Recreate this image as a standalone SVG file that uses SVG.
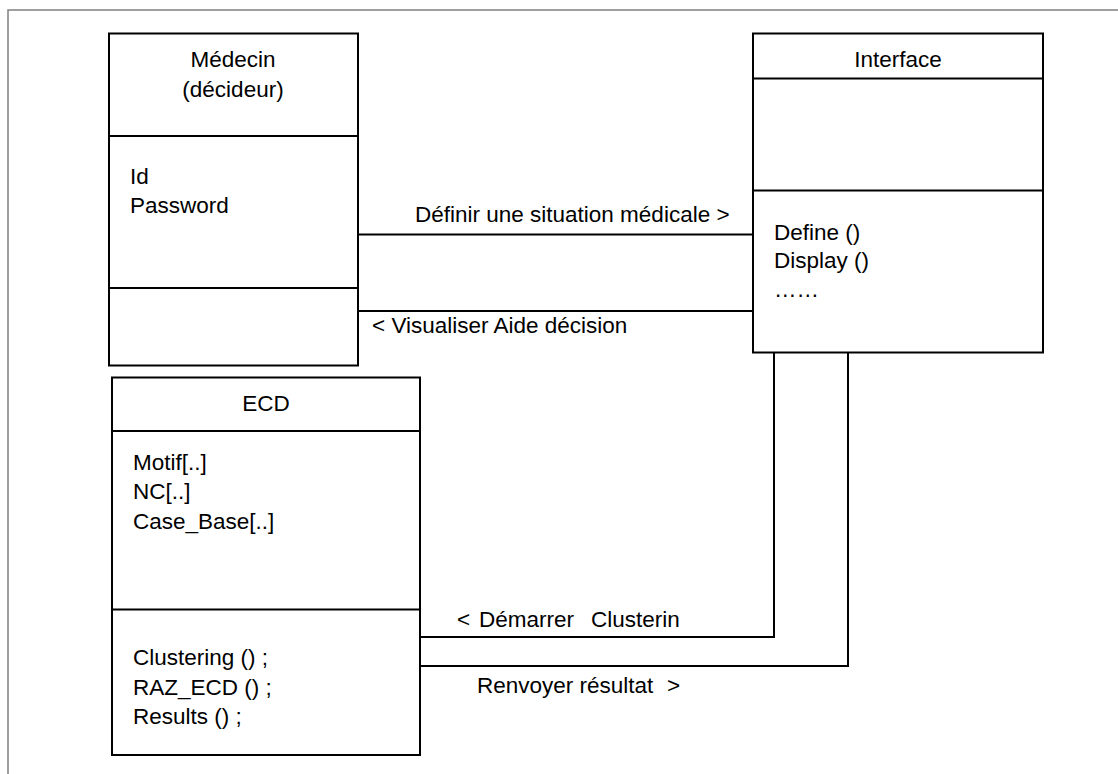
<svg xmlns="http://www.w3.org/2000/svg" width="1118" height="774" viewBox="0 0 1118 774">
<style>
text{font-family:"Liberation Sans",Arial,sans-serif;font-size:22.5px;fill:#000}
.c{text-anchor:middle}
.box{fill:#fff;stroke:#000;stroke-width:2}
.div{stroke:#000;stroke-width:2}
.conn{fill:none;stroke:#000;stroke-width:2}
.frame{fill:none;stroke:#808080;stroke-width:1.5}
</style>
<rect width="1118" height="774" fill="#fff"/>
<path class="frame" d="M8,774 V10 H1118"/>
<g id="connectors">
<line class="conn" x1="358" y1="234.5" x2="753" y2="234.5"/>
<line class="conn" x1="358" y1="311" x2="753" y2="311"/>
<path class="conn" d="M420,637 H774 V353"/>
<path class="conn" d="M420,666 H848 V353"/>
<text x="415" y="222">Définir une situation médicale &gt;</text>
<text x="372" y="333">&lt; Visualiser Aide décision</text>
<text x="457" y="627">&lt;<tspan x="479">Démarrer</tspan><tspan x="591">Clusterin</tspan></text>
<text x="477" y="693">Renvoyer résultat<tspan x="667">&gt;</tspan></text>
</g>
<g id="medecin">
<rect class="box" x="109" y="33.5" width="249" height="332"/>
<line class="div" x1="109" y1="136" x2="358" y2="136"/>
<line class="div" x1="109" y1="288" x2="358" y2="288"/>
<text class="c" x="233" y="67">Médecin</text>
<text class="c" x="233" y="97">(décideur)</text>
<text x="130" y="184">Id</text>
<text x="130" y="213">Password</text>
</g>
<g id="interface">
<rect class="box" x="753" y="33.5" width="290" height="319"/>
<line class="div" x1="753" y1="78.5" x2="1043" y2="78.5"/>
<line class="div" x1="753" y1="190.5" x2="1043" y2="190.5"/>
<text class="c" x="898" y="67">Interface</text>
<text x="774" y="240">Define ()</text>
<text x="774" y="268">Display ()</text>
<text x="774" y="297">……</text>
</g>
<g id="ecd">
<rect class="box" x="112" y="377.5" width="308" height="377.5"/>
<line class="div" x1="112" y1="431" x2="420" y2="431"/>
<line class="div" x1="112" y1="609.5" x2="420" y2="609.5"/>
<text class="c" x="266" y="411">ECD</text>
<text x="133" y="470">Motif[..]</text>
<text x="133" y="499">NC[..]</text>
<text x="133" y="529">Case_Base[..]</text>
<text x="133" y="665">Clustering () ;</text>
<text x="133" y="695">RAZ_ECD () ;</text>
<text x="133" y="724">Results () ;</text>
</g>
</svg>
